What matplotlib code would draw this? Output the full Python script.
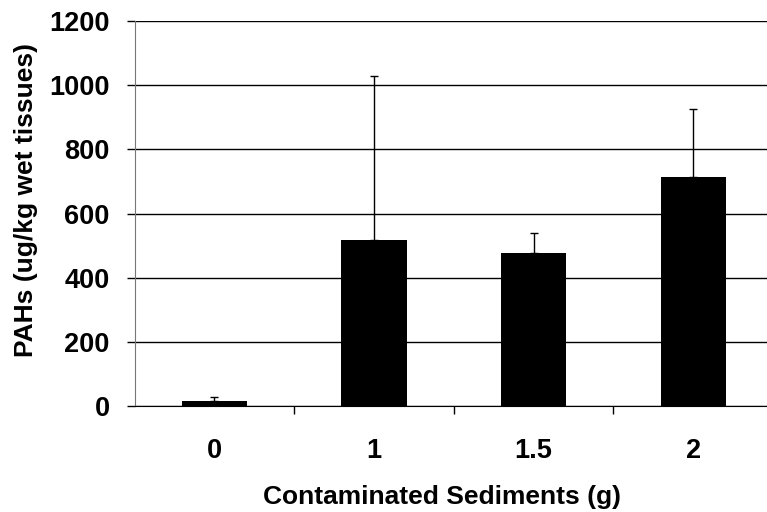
import matplotlib

matplotlib.use("Agg")
import matplotlib.pyplot as plt
import numpy as np

categories = ["0", "1", "1.5", "2"]
pah_mean = [15, 518, 477, 713]
pah_err = [12, 512, 62, 213]
y_ticks = [0, 200, 400, 600, 800, 1000, 1200]

plt.rcParams["font.family"] = ["Liberation Sans", "DejaVu Sans"]
plt.rcParams["font.weight"] = "bold"

fig = plt.figure(figsize=(7.67, 5.12), dpi=100)
ax = fig.add_axes([0.1754, 0.207, 0.8326, 0.752])

x = np.arange(len(categories))
ax.bar(x, pah_mean, width=0.41, color="black", zorder=3)
ax.errorbar(
    x,
    pah_mean,
    yerr=[np.zeros(len(pah_err)), pah_err],
    fmt="none",
    ecolor="black",
    elinewidth=1.0,
    capsize=3,
    capthick=1.0,
    zorder=2,
)

ax.set_xlim(-0.5, len(categories) - 0.5)
ax.set_ylim(0, 1200)
ax.set_yticks(y_ticks)
ax.set_yticklabels([str(v) for v in y_ticks])
ax.yaxis.grid(True, color="black", linewidth=1.0, zorder=0)
ax.set_axisbelow(True)

# category labels sit between the boundary ticks
ax.set_xticks(x)
ax.set_xticklabels(categories)
ax.tick_params(axis="x", which="major", length=0, pad=23, labelsize=19.5)
ax.set_xticks(np.arange(0.5, len(categories) - 0.5, 1.0), minor=True)
ax.tick_params(axis="x", which="minor", length=6, width=1.0, direction="out")
ax.tick_params(axis="y", length=6, width=1.0, direction="out", labelsize=19.5, pad=12)

for side in ["top", "right"]:
    ax.spines[side].set_visible(False)
ax.spines["left"].set_color("#777777")
ax.spines["bottom"].set_color("black")

ax.set_xlabel("Contaminated Sediments (g)", fontsize=19, fontweight="bold")
ax.set_ylabel("PAHs (ug/kg wet tissues)", fontsize=19, fontweight="bold")
ax.xaxis.set_label_coords(0.482, -0.204)
ax.yaxis.set_label_coords(-0.151, 0.535)

fig.savefig("out.png", dpi=100)
